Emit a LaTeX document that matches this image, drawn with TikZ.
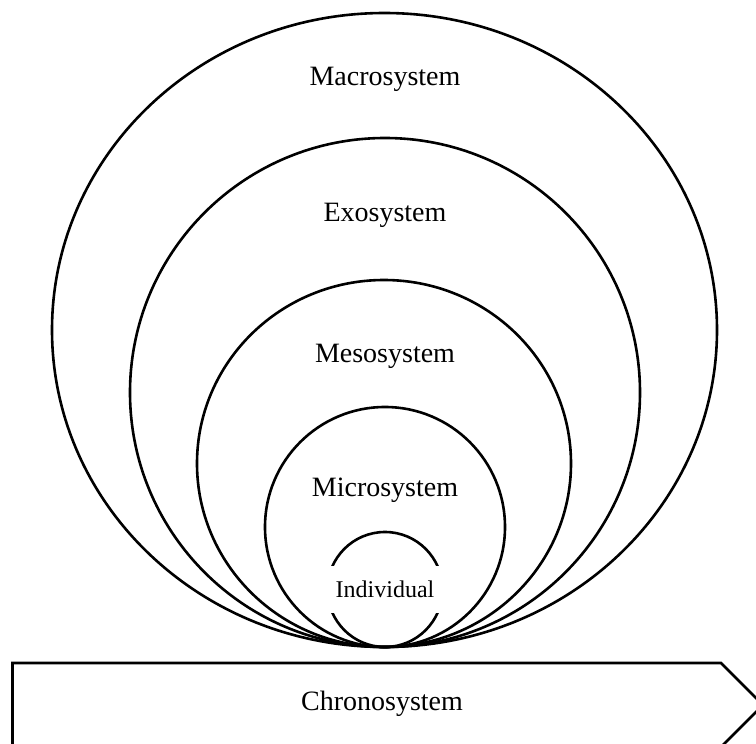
\documentclass[tikz,border=0pt]{standalone}
\usepackage{fontspec}
\setmainfont{Liberation Serif}
\usetikzlibrary{positioning}
\usetikzlibrary{shapes}
\tikzset{
sys/.style={
  ellipse,
  inner sep=0pt,
  draw=black,
  line width=2.6pt
  },
lbl/.style={
  anchor=base,
  inner sep=0pt,
  font=\fontsize{28}{28}\selectfont
  }
}

\begin{document}
\begin{tikzpicture}[x=1pt,y=-1pt]
            \useasboundingbox (0,0) rectangle (756,744);
            \node[sys,minimum width=665pt,minimum height=634pt] (macro) at (384.5,330) {};
            \node[sys,minimum width=510pt,minimum height=509pt] (exo)   at (385,392.5) {};
            \node[sys,minimum width=374pt,minimum height=367pt] (meso)  at (384,463.5) {};
            \node[sys,minimum width=240pt,minimum height=240pt] (micro) at (385,527) {};
            \node[sys,minimum width=115pt,minimum height=115pt] (indiv) at (385,589.5) {};
            \node[fill=white,minimum width=125pt,minimum height=47pt,inner sep=0pt] (indivbox) at (indiv.center) {};
            \node[lbl] (macrolbl) at (385,85)  {Macrosystem};
            \node[lbl] (exolbl)   at (385,221) {Exosystem};
            \node[lbl] (mesolbl)  at (385,362) {Mesosystem};
            \node[lbl] (microlbl) at (385,496) {Microsystem};
            \node[lbl,font=\fontsize{24}{24}\selectfont] (indivlbl) at (385,597) {Individual};
            % chronosystem arrow
            \coordinate (cA) at (12.5,663);
            \coordinate (cB) at (721,663);
            \coordinate (cC) at (763,705);
            \coordinate (cD) at (721,747);
            \coordinate (cE) at (12.5,747);
            \draw[line width=2.6pt,line join=miter] (cA) -- (cB) -- (cC) -- (cD) -- (cE) -- cycle;
            \node[lbl] (chronolbl) at (382,710) {Chronosystem};
        \end{tikzpicture}
\end{document}
